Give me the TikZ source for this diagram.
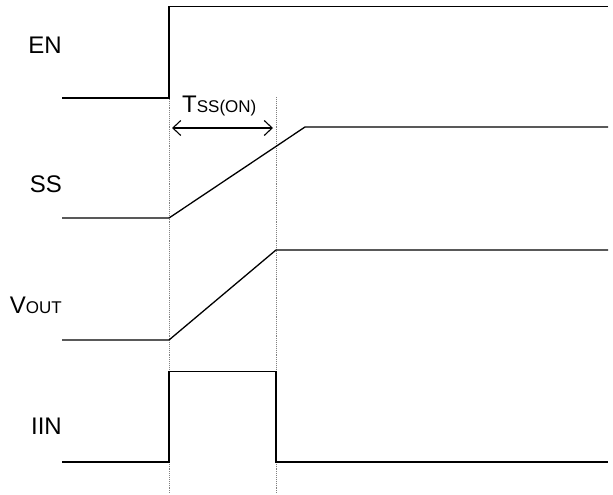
\documentclass[tikz,border=0pt]{standalone}
\usepackage{fontspec}
\setmainfont{Liberation Sans}
\usetikzlibrary{arrows.meta}
\tikzset{
  sig/.style={line width=1.3pt, line join=miter},
  guide/.style={gray, densely dotted, line width=0.9pt},
  lbl/.style={inner sep=0pt, anchor=base east, font=\fontsize{24}{28}\selectfont},
  dim/.style={line width=1.1pt, {Straight Barb[length=8pt,width=15pt]}-{Straight Barb[length=8pt,width=15pt]}}
}
\newcommand{\smallsub}[1]{{\fontsize{17}{20}\selectfont #1}}
\begin{document}
\begin{tikzpicture}[x=1pt,y=-1pt]
\useasboundingbox (0,0) rectangle (613,495);
% labels
\node[lbl] (en) at (62,54) {EN};
\node[lbl] (ss) at (62,192) {SS};
\node[lbl] (vout) at (62,313) {V\smallsub{OUT}};
\node[lbl] (iin) at (62,434) {IIN};
% guides
\coordinate (g1t) at (169,97);
\coordinate (g1b) at (169,493);
\coordinate (g2t) at (276,97);
\coordinate (g2b) at (276,493);
\draw[guide] (g1t) -- (g1b);
\draw[guide] (g2t) -- (g2b);
% EN
\draw[sig] (62,98) -- (169,98) -- (169,6.5) -- (608,6.5);
% SS
\draw[sig] (62,218) -- (169,218) -- (305,127) -- (608,127);
% VOUT
\draw[sig] (62,340) -- (169,340) -- (276,250) -- (608,250);
% IIN
\draw[sig] (62,462) -- (169,462) -- (169,371.5) -- (276,371.5) -- (276,462) -- (608,462);
% Tss(on)
\coordinate (a1) at (172,128);
\coordinate (a2) at (273,128);
\draw[dim] (a1) -- (a2);
\node[lbl, anchor=base west] (tss) at (182,112) {T\smallsub{SS(ON)}};
\end{tikzpicture}
\end{document}
